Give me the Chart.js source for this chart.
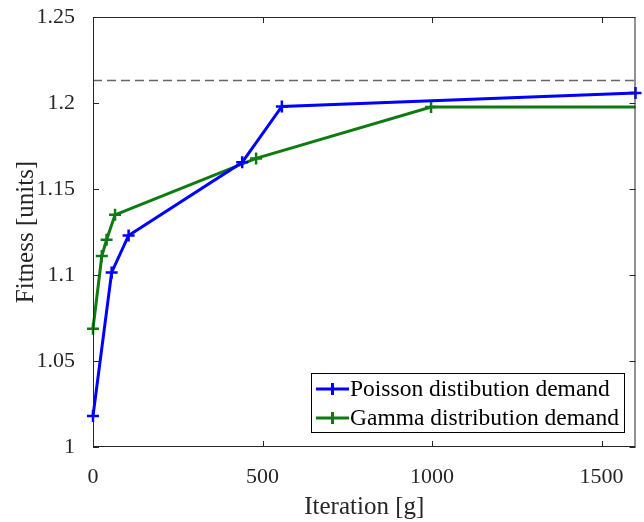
<!DOCTYPE html>
<html>
<head>
<meta charset="utf-8">
<script src="https://cdn.jsdelivr.net/npm/chart.js@4"></script>
<style>
  body { margin: 0; background: #fff; }
  canvas { display: block; }
</style>
</head>
<body>
<canvas id="chart" width="644" height="522"></canvas>
<script>
  // data
  const poissonX = [0, 55, 105, 440, 557, 1600];
  const poissonY = [1.018, 1.1015, 1.123, 1.1655, 1.198, 1.2058];
  const gammaX = [0, 26, 40, 65, 481, 997, 1600];
  const gammaY = [1.0688, 1.111, 1.1205, 1.135, 1.1678, 1.1977, 1.1977];
  const refX = [0, 1600];
  const refY = [1.2131, 1.2131];
  const xTicks = [0, 500, 1000, 1500];
  const yTicks = [1, 1.05, 1.1, 1.15, 1.2, 1.25];
  const seriesNames = ['Poisson distibution demand', 'Gamma distribution demand'];

  const BLUE = '#0000ff';
  const GREEN = '#0e7a12';
  const AXIS = '#262626';
  const FONT = '"Liberation Serif", "Times New Roman", serif';

  function toPoints(xs, ys) {
    return xs.map((x, i) => ({ x: x, y: ys[i] }));
  }

  // frame, inward ticks and legend box like matlab
  const matlabAxes = {
    id: 'matlabAxes',
    afterDatasetsDraw(chart) {
      const ctx = chart.ctx;
      const a = chart.chartArea;
      const xs = chart.scales.x;
      const ys = chart.scales.y;
      const tl = 6;

      ctx.save();
      ctx.strokeStyle = AXIS;
      ctx.lineWidth = 1;
      ctx.strokeRect(a.left + 0.5, a.top + 0.5, a.right - a.left - 1, a.bottom - a.top - 1);

      ctx.beginPath();
      xTicks.forEach(v => {
        const px = Math.round(xs.getPixelForValue(v)) + 0.5;
        ctx.moveTo(px, a.bottom); ctx.lineTo(px, a.bottom - tl);
        ctx.moveTo(px, a.top); ctx.lineTo(px, a.top + tl);
      });
      yTicks.forEach(v => {
        const py = Math.round(ys.getPixelForValue(v)) + 0.5;
        ctx.moveTo(a.left, py); ctx.lineTo(a.left + tl, py);
        ctx.moveTo(a.right, py); ctx.lineTo(a.right - tl, py);
      });
      ctx.stroke();

      // legend
      const lx = 311, ly = 373, lw = 313, lh = 59;
      ctx.fillStyle = '#fff';
      ctx.fillRect(lx, ly, lw, lh);
      ctx.strokeStyle = '#000';
      ctx.strokeRect(lx + 0.5, ly + 0.5, lw, lh);

      const rows = [389, 418];
      const cols = [BLUE, GREEN];
      ctx.font = '23.5px ' + FONT;
      ctx.textBaseline = 'middle';
      rows.forEach((ry, i) => {
        ctx.strokeStyle = cols[i];
        ctx.lineWidth = 3;
        ctx.beginPath();
        ctx.moveTo(316, ry); ctx.lineTo(349, ry);
        ctx.moveTo(332.5, ry - 6); ctx.lineTo(332.5, ry + 6);
        ctx.stroke();
        ctx.fillStyle = '#000';
        ctx.fillText(seriesNames[i], 350, ry + 1);
      });
      ctx.restore();
    }
  };

  const ctx = document.getElementById('chart').getContext('2d');
  new Chart(ctx, {
    type: 'scatter',
    data: {
      datasets: [
        {
          label: 'ref',
          data: toPoints(refX, refY),
          showLine: true,
          borderColor: '#666',
          borderWidth: 1.5,
          borderDash: [9, 5],
          pointRadius: 0,
          clip: false
        },
        {
          label: seriesNames[0],
          data: toPoints(poissonX, poissonY),
          showLine: true,
          borderColor: BLUE,
          backgroundColor: BLUE,
          borderWidth: 3,
          pointStyle: 'cross',
          pointRadius: 6,
          pointBorderWidth: 2.5,
          clip: false
        },
        {
          label: seriesNames[1],
          data: toPoints(gammaX, gammaY),
          showLine: true,
          borderColor: GREEN,
          backgroundColor: GREEN,
          borderWidth: 3,
          pointStyle: 'cross',
          pointRadius: c => (c.dataIndex === gammaX.length - 1 ? 0 : 6),
          pointBorderWidth: 2.5,
          clip: false
        }
      ]
    },
    options: {
      responsive: false,
      animation: false,
      layout: { padding: { top: 17, right: 6, left: 0, bottom: 0 } },
      plugins: {
        legend: { display: false },
        tooltip: { enabled: false }
      },
      scales: {
        x: {
          type: 'linear',
          min: 0,
          max: 1600,
          afterFit: s => { s.height = 75; s.paddingLeft = 0; s.paddingRight = 0; },
          afterBuildTicks: s => { s.ticks = xTicks.map(v => ({ value: v })); },
          grid: { display: false },
          border: { display: false },
          ticks: {
            color: AXIS,
            font: { family: FONT, size: 22 },
            padding: 9,
            maxRotation: 0,
            callback: v => String(v)
          },
          title: {
            display: true,
            text: 'Iteration [g]',
            color: AXIS,
            font: { family: FONT, size: 25 },
            padding: { top: 0, bottom: 0 }
          }
        },
        y: {
          type: 'linear',
          min: 1,
          max: 1.25,
          afterFit: s => { s.width = 93; s.paddingTop = 0; s.paddingBottom = 0; },
          afterBuildTicks: s => { s.ticks = yTicks.map(v => ({ value: v })); },
          grid: { display: false },
          border: { display: false },
          ticks: {
            color: AXIS,
            font: { family: FONT, size: 22 },
            padding: 10,
            callback: v => String(Number(v.toFixed(2)))
          },
          title: {
            display: true,
            text: 'Fitness [units]',
            color: AXIS,
            font: { family: FONT, size: 25 },
            padding: { top: 11, bottom: 0 }
          }
        }
      }
    },
    plugins: [matlabAxes]
  });
</script>
</body>
</html>
